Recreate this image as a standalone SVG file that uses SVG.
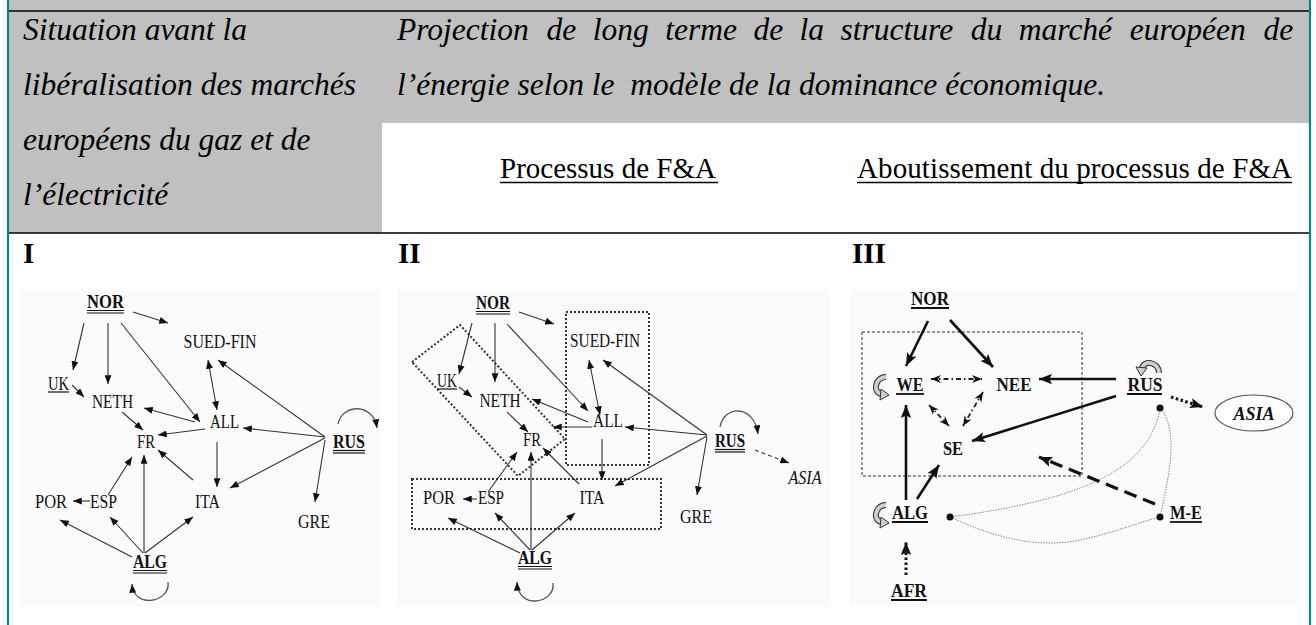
<svg xmlns="http://www.w3.org/2000/svg" width="1316" height="625" viewBox="0 0 1316 625">
<style>
.hdr{font-family:"Liberation Serif","Times New Roman",serif;font-style:italic;font-size:31.5px;fill:#000}
.sub{font-family:"Liberation Serif","Times New Roman",serif;font-size:29px;fill:#000}
.num{font-family:"Liberation Serif","Times New Roman",serif;font-size:29px;font-weight:bold;fill:#000}
.n{font-family:"Liberation Serif","Times New Roman",serif;font-size:18px;fill:#111;text-anchor:middle}
.b{font-weight:bold}
.n3{font-family:"Liberation Serif","Times New Roman",serif;font-size:18.5px;font-weight:bold;fill:#111;text-anchor:middle}
.ul{stroke:#111;stroke-width:1.2}
.ul3{stroke:#111;stroke-width:1.8}
.e{stroke:#333;stroke-width:1.1;fill:none;marker-end:url(#ah)}
.e2{stroke:#333;stroke-width:1.1;fill:none;marker-end:url(#ah);marker-start:url(#ah)}
.ed{stroke:#333;stroke-width:1.1;fill:none;stroke-dasharray:4 3;marker-end:url(#ah)}
.loop{stroke:#555;stroke-width:1.3;fill:none;marker-end:url(#ah)}
.box{stroke:#333;stroke-width:2;fill:none;stroke-dasharray:2 2}
.t{stroke:#111;stroke-width:2.6;fill:none;marker-end:url(#ahb)}
.dd{stroke:#222;stroke-width:1.8;fill:none;stroke-dasharray:5 3 1.5 3;marker-end:url(#ahc);marker-start:url(#ahc)}
.dash{stroke:#111;stroke-width:3.2;fill:none;stroke-dasharray:13 7;marker-end:url(#ahb)}
.dot{stroke:#111;stroke-width:3;fill:none;stroke-dasharray:2.5 2.5;marker-end:url(#ahb)}
.thin{stroke:#888;stroke-width:1;fill:none;stroke-dasharray:1.5 1.2}
.bg{fill:#fbfbfb}
</style>
<defs>
<marker id="ah" viewBox="0 0 10 8" refX="10" refY="4" markerWidth="9" markerHeight="7" orient="auto-start-reverse" markerUnits="userSpaceOnUse"><path d="M0,0 L10,4 L0,8 z" fill="#111"/></marker>
<marker id="ahb" viewBox="0 0 10 8" refX="10" refY="4" markerWidth="13" markerHeight="11" orient="auto-start-reverse" markerUnits="userSpaceOnUse"><path d="M0,0 L10,4 L0,8 L2,4 z" fill="#111"/></marker>
<marker id="ahc" viewBox="0 0 10 8" refX="10" refY="4" markerWidth="10" markerHeight="9" orient="auto-start-reverse" markerUnits="userSpaceOnUse"><path d="M0,0 L10,4 L0,8 L3,4 z" fill="#111"/></marker>
<g id="curl">
<path d="M5,-10 C-6,-10 -9,6 1,7" fill="none" stroke="#333" stroke-width="6"/>
<path d="M5,-10 C-6,-10 -9,6 1,7" fill="none" stroke="#cfcfcf" stroke-width="3.8"/>
<path d="M0,2 L8,8 L-1,13 z" fill="#cfcfcf" stroke="#333" stroke-width="1"/>
</g>
</defs>

<!-- table frame -->
<rect x="0" y="0" width="1316" height="625" fill="#fff"/>
<rect x="8" y="0" width="1302" height="11" fill="#c0c0c0"/>
<rect x="8" y="11" width="374" height="222" fill="#c0c0c0"/>
<rect x="382" y="11" width="928" height="112" fill="#c0c0c0"/>
<line x1="8" y1="11" x2="1310" y2="11" stroke="#000" stroke-width="1.6"/>
<line x1="8" y1="233" x2="1310" y2="233" stroke="#000" stroke-width="1.6"/>
<line x1="8" y1="0" x2="8" y2="625" stroke="#0a8585" stroke-width="2.2"/>
<line x1="1310" y1="0" x2="1310" y2="625" stroke="#0a8585" stroke-width="2.2"/>

<!-- header texts -->
<g id="header-left">
<text class="hdr" x="23" y="40">Situation avant la</text>
<text class="hdr" x="23" y="95">libéralisation des marchés</text>
<text class="hdr" x="23" y="150">européens du gaz et de</text>
<text class="hdr" x="23" y="205">l’électricité</text>
</g>
<g id="header-right">
<text class="hdr" y="40"><tspan x="397">Projection</tspan><tspan x="546.5">de</tspan><tspan x="592.7">long</tspan><tspan x="665.2">terme</tspan><tspan x="753.4">de</tspan><tspan x="799.6">la</tspan><tspan x="840.6">structure</tspan><tspan x="970.8">du</tspan><tspan x="1018.8">marché</tspan><tspan x="1129.8">européen</tspan><tspan x="1263.5">de</tspan></text>
<text class="hdr" x="397" y="95" xml:space="preserve" style="white-space:pre">l’énergie selon le  modèle de la dominance économique.</text>
<text class="sub" x="500" y="178">Processus de F&amp;A</text>
<line x1="500" y1="182.5" x2="718" y2="182.5" stroke="#000" stroke-width="1.4"/>
<text class="sub" x="857" y="178" textLength="435" lengthAdjust="spacing">Aboutissement du processus de F&amp;A</text>
<line x1="857" y1="182.5" x2="1292" y2="182.5" stroke="#000" stroke-width="1.4"/>
</g>
<g id="numerals">
<text class="num" x="23" y="263">I</text>
<text class="num" x="398" y="263">II</text>
<text class="num" x="852" y="263">III</text>
</g>

<!-- panel backgrounds -->
<rect class="bg" x="20" y="290" width="360" height="317"/>
<rect class="bg" x="398" y="290" width="432" height="317"/>
<rect class="bg" x="850" y="290" width="448" height="315"/>

<!-- PANEL I -->
<g id="p1-connectors">
<path class="e" d="M133,312 L168,323"/>
<path class="e" d="M84,323 L73,370"/>
<path class="e" d="M108,323 L108,384"/>
<path class="e" d="M121,323 L200,422"/>
<path class="e" d="M72,385 L84,397"/>
<path class="e2" d="M208,360 L217,410"/>
<path class="e" d="M325,437 L218,360"/>
<path class="e" d="M195,422 L144,408"/>
<path class="e" d="M205,429 L158,435"/>
<path class="e" d="M122,412 L143,430"/>
<path class="e" d="M325,437 L243,428"/>
<path class="e" d="M217,442 L217,487"/>
<path class="e" d="M325,438 L230,488"/>
<path class="e" d="M325,440 L315,502"/>
<path class="loop" d="M338,424 C342,404 373,402 377,428"/>
<path class="e" d="M193,480 L158,450"/>
<path class="e" d="M108,495 L132,457"/>
<path class="e" d="M90,501 L73,501"/>
<path class="e" d="M132,557 L60,520"/>
<path class="e" d="M143,553 L110,517"/>
<path class="e" d="M144,553 L144,455"/>
<path class="e" d="M145,553 L193,517"/>
<path class="loop" d="M168,582 C171,602 134,610 132,584"/>
</g>
<g id="p1-NOR"><text class="n b" x="105.5" y="308" textLength="37" lengthAdjust="spacingAndGlyphs">NOR</text><line class="ul" x1="87" y1="310.5" x2="124" y2="310.5"/><line class="ul" x1="87" y1="313" x2="124" y2="313"/></g>
<g id="p1-SUED-FIN"><text class="n" x="220" y="348" textLength="73" lengthAdjust="spacingAndGlyphs">SUED-FIN</text></g>
<g id="p1-UK"><text class="n" x="58.5" y="390" textLength="21" lengthAdjust="spacingAndGlyphs">UK</text><line class="ul" x1="48" y1="392" x2="69" y2="392"/></g>
<g id="p1-NETH"><text class="n" x="112.5" y="408" textLength="41" lengthAdjust="spacingAndGlyphs">NETH</text></g>
<g id="p1-ALL"><text class="n" x="224.5" y="428" textLength="29" lengthAdjust="spacingAndGlyphs">ALL</text></g>
<g id="p1-FR"><text class="n" x="146" y="448" textLength="18" lengthAdjust="spacingAndGlyphs">FR</text></g>
<g id="p1-RUS"><text class="n b" x="349" y="448" textLength="32" lengthAdjust="spacingAndGlyphs">RUS</text><line class="ul" x1="333" y1="450.5" x2="365" y2="450.5"/><line class="ul" x1="333" y1="453" x2="365" y2="453"/></g>
<g id="p1-POR"><text class="n" x="51" y="508" textLength="32" lengthAdjust="spacingAndGlyphs">POR</text></g>
<g id="p1-ESP"><text class="n" x="103.5" y="508" textLength="27" lengthAdjust="spacingAndGlyphs">ESP</text></g>
<g id="p1-ITA"><text class="n" x="207.5" y="508" textLength="25" lengthAdjust="spacingAndGlyphs">ITA</text></g>
<g id="p1-GRE"><text class="n" x="314" y="528" textLength="32" lengthAdjust="spacingAndGlyphs">GRE</text></g>
<g id="p1-ALG"><text class="n b" x="150" y="568" textLength="34" lengthAdjust="spacingAndGlyphs">ALG</text><line class="ul" x1="133" y1="570.5" x2="167" y2="570.5"/><line class="ul" x1="133" y1="573" x2="167" y2="573"/></g>

<!-- PANEL II -->
<g id="p2-groups">
<rect class="box" x="566" y="312" width="83" height="153"/>
<rect class="box" x="412" y="479" width="249" height="50"/>
<polygon class="box" points="412,362 460,325 565,439 518,476"/>
</g>
<g id="p2-connectors">
<path class="e" d="M519,312 L554,324"/>
<path class="e" d="M472,323 L459,374"/>
<path class="e" d="M495,323 L495,382"/>
<path class="e" d="M507,324 L588,411"/>
<path class="e" d="M459,387 L472,397"/>
<path class="e2" d="M589,360 L600,415"/>
<path class="e" d="M707,435 L603,360"/>
<path class="e" d="M588,422 L532,399"/>
<path class="e" d="M592,427 L553,427"/>
<path class="e" d="M507,412 L528,432"/>
<path class="e" d="M707,435 L625,427"/>
<path class="e" d="M602,439 L602,480"/>
<path class="e" d="M707,436 L615,486"/>
<path class="e" d="M707,437 L697,495"/>
<path class="loop" d="M720,427 C724,405 754,404 758,434"/>
<path class="ed" d="M755,450 L789,463"/>
<path class="e" d="M579,484 L543,448"/>
<path class="e" d="M488,492 L517,452"/>
<path class="e" d="M477,499 L463,499"/>
<path class="e" d="M520,553 L448,518"/>
<path class="e" d="M530,550 L495,513"/>
<path class="e" d="M531,550 L531,452"/>
<path class="e" d="M532,550 L575,513"/>
<path class="loop" d="M553,583 C556,603 518,611 517,582"/>
</g>
<g id="p2-NOR"><text class="n b" x="493" y="309" textLength="34" lengthAdjust="spacingAndGlyphs">NOR</text><line class="ul" x1="476" y1="311.5" x2="510" y2="311.5"/><line class="ul" x1="476" y1="314" x2="510" y2="314"/></g>
<g id="p2-SUED-FIN"><text class="n" x="605" y="347" textLength="70" lengthAdjust="spacingAndGlyphs">SUED-FIN</text></g>
<g id="p2-UK"><text class="n" x="447" y="387" textLength="20" lengthAdjust="spacingAndGlyphs">UK</text><line class="ul" x1="437" y1="389" x2="457" y2="389"/></g>
<g id="p2-NETH"><text class="n" x="500" y="407" textLength="41" lengthAdjust="spacingAndGlyphs">NETH</text></g>
<g id="p2-ALL"><text class="n" x="608" y="427" textLength="30" lengthAdjust="spacingAndGlyphs">ALL</text></g>
<g id="p2-FR"><text class="n" x="532" y="446" textLength="18" lengthAdjust="spacingAndGlyphs">FR</text></g>
<g id="p2-RUS"><text class="n b" x="730" y="447" textLength="30" lengthAdjust="spacingAndGlyphs">RUS</text><line class="ul" x1="715" y1="449.5" x2="745" y2="449.5"/><line class="ul" x1="715" y1="452" x2="745" y2="452"/></g>
<g id="p2-ASIA"><text class="n" x="805" y="484" font-style="italic" textLength="33" lengthAdjust="spacingAndGlyphs">ASIA</text></g>
<g id="p2-POR"><text class="n" x="439" y="504" textLength="32" lengthAdjust="spacingAndGlyphs">POR</text></g>
<g id="p2-ESP"><text class="n" x="491" y="504" textLength="26" lengthAdjust="spacingAndGlyphs">ESP</text></g>
<g id="p2-ITA"><text class="n" x="592" y="504" textLength="25" lengthAdjust="spacingAndGlyphs">ITA</text></g>
<g id="p2-GRE"><text class="n" x="696" y="523" textLength="32" lengthAdjust="spacingAndGlyphs">GRE</text></g>
<g id="p2-ALG"><text class="n b" x="535" y="564" textLength="34" lengthAdjust="spacingAndGlyphs">ALG</text><line class="ul" x1="518" y1="566.5" x2="552" y2="566.5"/><line class="ul" x1="518" y1="569" x2="552" y2="569"/></g>

<!-- PANEL III -->
<g id="p3-region"><rect x="862" y="332" width="220" height="144" fill="none" stroke="#333" stroke-width="1" stroke-dasharray="3 2"/></g>
<g id="p3-connectors">
<path class="thin" d="M950,517 C1080,500 1150,470 1160,408"/>
<path class="thin" d="M1160,408 C1180,430 1168,480 1161,513"/>
<path class="thin" d="M950,517 C1000,540 1040,548 1080,540 C1110,534 1140,522 1160,517"/>
<path class="t" d="M928,321 L906,366"/>
<path class="t" d="M950,320 L993,367"/>
<path class="dd" d="M931,379 L982,379"/>
<path class="dd" d="M929,405 L949,426"/>
<path class="dd" d="M983,392 L963,426"/>
<path class="t" d="M1116,379 L1039,379"/>
<path class="t" d="M1116,396 L972,441"/>
<path class="t" d="M906,500 L906,405"/>
<path class="t" d="M917,499 L939,465"/>
<path class="dash" d="M1155,504 L1039,457"/>
<path class="dot" d="M1171,397 L1203,407"/>
<path class="dot" d="M906,575 L906,542"/>
<circle cx="1160" cy="408" r="3.5" fill="#111"/>
<circle cx="950" cy="517" r="3.5" fill="#111"/>
<circle cx="1160" cy="517" r="3.5" fill="#111"/>
<use href="#curl" transform="translate(881,387)"/>
<use href="#curl" transform="translate(881,515)"/>
<use href="#curl" transform="translate(1149,368) rotate(90)"/>
</g>
<g id="p3-NOR"><text class="n3" x="930" y="305" textLength="38" lengthAdjust="spacingAndGlyphs">NOR</text><line class="ul3" x1="911" y1="308" x2="949" y2="308"/></g>
<g id="p3-WE"><text class="n3" x="910" y="391" textLength="27" lengthAdjust="spacingAndGlyphs">WE</text><line class="ul3" x1="896" y1="394" x2="924" y2="394"/></g>
<g id="p3-NEE"><text class="n3" x="1014" y="391" textLength="35" lengthAdjust="spacingAndGlyphs">NEE</text></g>
<g id="p3-RUS"><text class="n3" x="1145" y="391" textLength="35" lengthAdjust="spacingAndGlyphs">RUS</text><line class="ul3" x1="1127" y1="394" x2="1162" y2="394"/></g>
<g id="p3-ASIA"><ellipse cx="1254" cy="413" rx="39" ry="18" fill="#fff" stroke="#555" stroke-width="1.2"/><text class="n3" x="1254" y="420" font-style="italic" textLength="41" lengthAdjust="spacingAndGlyphs">ASIA</text></g>
<g id="p3-SE"><text class="n3" x="953" y="455" textLength="20" lengthAdjust="spacingAndGlyphs">SE</text></g>
<g id="p3-ALG"><text class="n3" x="910" y="519" textLength="36" lengthAdjust="spacingAndGlyphs">ALG</text><line class="ul3" x1="892" y1="522" x2="928" y2="522"/></g>
<g id="p3-M-E"><text class="n3" x="1186" y="519" textLength="32" lengthAdjust="spacingAndGlyphs">M-E</text><line class="ul3" x1="1170" y1="522" x2="1202" y2="522"/></g>
<g id="p3-AFR"><text class="n3" x="909" y="597" textLength="36" lengthAdjust="spacingAndGlyphs">AFR</text><line class="ul3" x1="891" y1="600" x2="927" y2="600"/></g>
</svg>
